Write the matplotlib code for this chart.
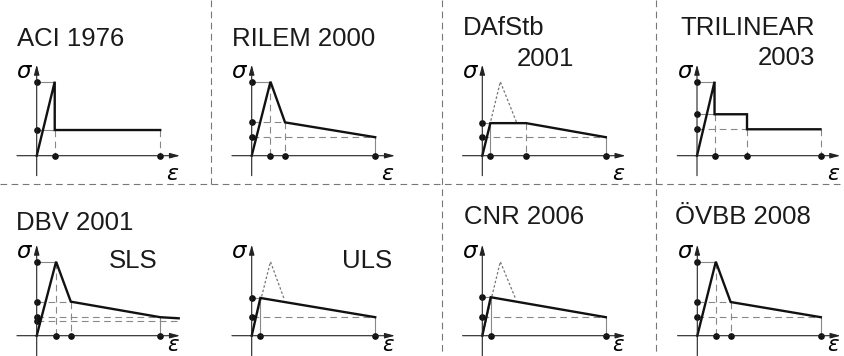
import matplotlib
matplotlib.use("Agg")
import matplotlib.pyplot as plt

# key points of each tension softening model
# strain as fraction of ultimate strain, stress as fraction of tensile strength
aci_eps = [0, 0.146, 0.146, 1.0]
aci_sig = [0, 1.0, 0.347, 0.347]

rilem_eps = [0, 0.152, 0.27, 1.0]
rilem_sig = [0, 1.0, 0.45, 0.25]

dafstb_eps = [0, 0.065, 0.355, 1.0]
dafstb_sig = [0, 0.44, 0.44, 0.25]
dafstb_ref_eps = [0, 0.146, 0.28]
dafstb_ref_sig = [0, 1.0, 0.44]

tri_eps = [0, 0.142, 0.142, 0.405, 0.405, 1.0]
tri_sig = [0, 1.0, 0.56, 0.56, 0.357, 0.357]

dbv_sls_eps = [0, 0.157, 0.276, 1.0, 1.15]
dbv_sls_sig = [0, 1.0, 0.46, 0.25, 0.235]

dbv_uls_eps = [0, 0.07, 1.0]
dbv_uls_sig = [0, 0.51, 0.25]
dbv_uls_ref_eps = [0, 0.152, 0.26]
dbv_uls_ref_sig = [0, 1.0, 0.51]

cnr_eps = [0, 0.068, 1.0]
cnr_sig = [0, 0.52, 0.25]
cnr_ref_eps = [0, 0.146, 0.267]
cnr_ref_sig = [0, 1.0, 0.51]

ovbb_eps = [0, 0.15, 0.27, 1.0]
ovbb_sig = [0, 1.0, 0.455, 0.25]

W, H = 844, 356
SX, SY = 123.5, 74.0          # pixels per unit strain / stress
XL, YL = (-0.3, 1.3), (-0.4, 1.4)

fig = plt.figure(figsize=(8.44, 3.56), dpi=100)
plt.rcParams['font.family'] = ['Liberation Sans', 'DejaVu Sans']

bg = fig.add_axes([0, 0, 1, 1])
bg.set_xlim(0, W)
bg.set_ylim(H, 0)
bg.axis('off')
grid = dict(color='#777777', lw=0.8, ls=(0, (6, 4)))
bg.plot([0, W], [184, 184], **grid)
bg.plot([211, 211], [0, 184], **grid)
bg.plot([442, 442], [0, H], **grid)
bg.plot([656, 656], [0, H], **grid)

GUIDE = '#888888'


def panel(ox, oy, eps, sig, hguides, vguides, ydots, xdots, ref=None,
          bottom_row=False):
    left = (ox + XL[0] * SX) / W
    bottom = 1 - (oy - YL[0] * SY) / H
    ax = fig.add_axes([left, bottom, (XL[1] - XL[0]) * SX / W,
                       (YL[1] - YL[0]) * SY / H])
    ax.set_xlim(*XL)
    ax.set_ylim(*YL)
    ax.axis('off')

    arrow = dict(arrowstyle='-|>,head_length=0.6,head_width=0.16',
                 color='#222222', lw=0.8, shrinkA=0, shrinkB=0)
    ax.annotate('', xy=(1.16, 0), xytext=(-0.16, 0), arrowprops=arrow)
    ax.annotate('', xy=(0, 1.23), xytext=(0, -0.27), arrowprops=arrow)
    ax.text(-0.045, 1.05, 'σ', ha='right', va='baseline', fontsize=16.5,
            style='italic', family=['DejaVu Sans'])
    if bottom_row:
        # the reference crops this label at the lower edge; keep it inside
        ax.text(1.1, -0.205, 'ε', ha='center', va='baseline', fontsize=15.5,
                style='italic', family=['DejaVu Sans'])
    else:
        ax.text(1.1, -0.11, 'ε', ha='center', va='top', fontsize=16,
                style='italic', family=['DejaVu Sans'])

    for s, e, ls in hguides:
        ax.plot([0, e], [s, s], color=GUIDE, lw=0.8, ls=ls, clip_on=False)
    for e, s, ls in vguides:
        ax.plot([e, e], [s, 0], color=GUIDE, lw=0.8, ls=ls, clip_on=False)

    if ref is not None:
        ax.plot(ref[0], ref[1], color='#777777', lw=0.9, ls=(0, (2, 1.6)),
                clip_on=False)
    ax.plot(eps, sig, color='#111111', lw=1.7, solid_joinstyle='miter',
            clip_on=False)

    ax.plot([0] * len(ydots), ydots, 'o', color='#111111', ms=3.8,
            clip_on=False)
    ax.plot(xdots, [0] * len(xdots), 'o', color='#111111', ms=3.8,
            clip_on=False)
    return ax


D = (0, (6, 4))
S = '-'

panel(36.7, 155.7, aci_eps, aci_sig,
      [(1.0, 0.146, S), (0.347, 0.146, S)],
      [(0.146, 0.347, D), (1.0, 0.347, D)],
      [1.0, 0.347], [0.146, 1.0])

panel(251.7, 155.7, rilem_eps, rilem_sig,
      [(1.0, 0.152, S), (0.45, 0.27, D), (0.25, 1.0, D)],
      [(0.152, 1.0, D), (0.27, 0.45, D), (1.0, 0.25, S)],
      [1.0, 0.45, 0.25], [0.152, 0.27, 1.0])

panel(482.3, 155.7, dafstb_eps, dafstb_sig,
      [(0.44, 0.065, S), (0.25, 1.0, D)],
      [(0.065, 0.44, S), (0.355, 0.44, D), (1.0, 0.25, S)],
      [0.44, 0.25], [0.065, 0.355, 1.0],
      ref=(dafstb_ref_eps, dafstb_ref_sig))

panel(697.0, 155.7, tri_eps, tri_sig,
      [(1.0, 0.142, S), (0.56, 0.142, S), (0.357, 0.405, D)],
      [(0.142, 0.56, D), (0.405, 0.357, D), (1.0, 0.357, D)],
      [1.0, 0.56, 0.357], [0.142, 0.405, 1.0])

panel(36.7, 335.7, dbv_sls_eps, dbv_sls_sig,
      [(1.0, 0.157, S), (0.46, 0.276, D), (0.25, 1.15, D), (0.2, 1.15, D)],
      [(0.157, 1.0, D), (0.276, 0.46, D), (1.0, 0.25, S)],
      [1.0, 0.46, 0.25, 0.2], [0.157, 0.276, 1.0], bottom_row=True)

panel(251.7, 335.7, dbv_uls_eps, dbv_uls_sig,
      [(0.51, 0.07, S), (0.25, 1.0, D)],
      [(0.07, 0.51, S), (1.0, 0.25, S)],
      [0.51, 0.25], [0.07, 1.0],
      ref=(dbv_uls_ref_eps, dbv_uls_ref_sig), bottom_row=True)

panel(482.3, 335.7, cnr_eps, cnr_sig,
      [(0.52, 0.068, S), (0.25, 1.0, D)],
      [(0.068, 0.52, S), (1.0, 0.25, S)],
      [0.52, 0.25], [0.068, 1.0],
      ref=(cnr_ref_eps, cnr_ref_sig), bottom_row=True)

panel(697.3, 335.7, ovbb_eps, ovbb_sig,
      [(1.0, 0.15, S), (0.455, 0.27, D), (0.25, 1.0, D)],
      [(0.15, 1.0, D), (0.27, 0.455, D), (1.0, 0.25, S)],
      [1.0, 0.455, 0.25], [0.15, 0.27, 1.0], bottom_row=True)

# titles (pixel positions, baseline)
title = dict(fontsize=18.5, color='#1a1a1a', va='baseline')
bg.text(17, 46, 'ACI 1976', ha='left', **title)
bg.text(232, 46.5, 'RILEM 2000', ha='left', **title)
bg.text(463, 35, 'DAfStb', ha='left', **title)
bg.text(574, 66, '2001', ha='right', **title)
bg.text(815, 35, 'TRILINEAR', ha='right', **title)
bg.text(815, 65, '2003', ha='right', **title)
bg.text(16, 229.5, 'DBV 2001', ha='left', **title)
bg.text(109, 268.5, 'SLS', ha='left', **title)
bg.text(342, 267.5, 'ULS', ha='left', **title)
bg.text(464, 224.5, 'CNR 2006', ha='left', **title)
bg.text(675, 224.5, 'ÖVBB 2008', ha='left', **title)

fig.savefig('out.png', dpi=100)
